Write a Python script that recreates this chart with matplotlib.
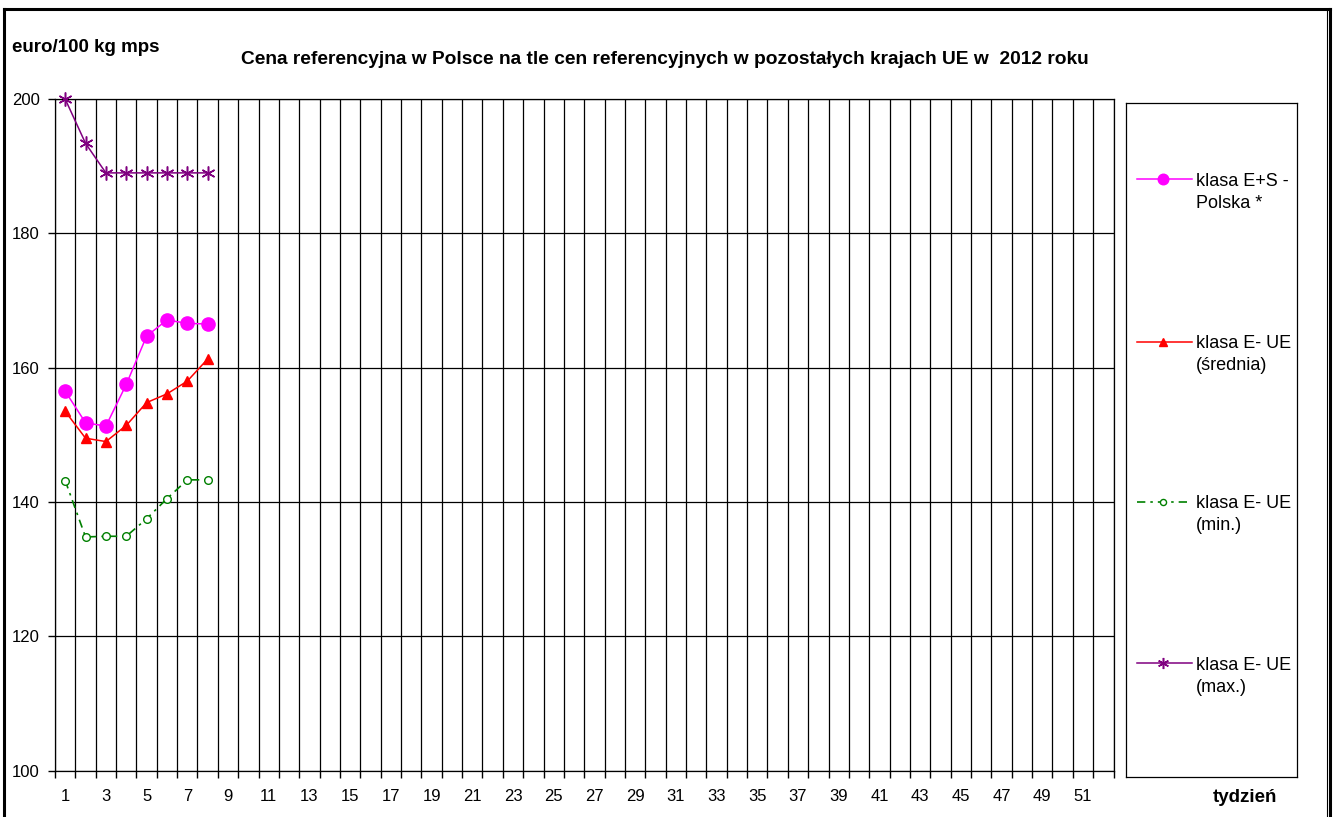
import matplotlib
matplotlib.use("Agg")
import matplotlib.pyplot as plt
from matplotlib.lines import Line2D
import numpy as np

plt.rcParams['font.family'] = ['Liberation Sans', 'DejaVu Sans']

# ---- data ----
weeks = [1, 2, 3, 4, 5, 6, 7, 8]
polska = [156.5, 151.8, 151.3, 157.5, 164.7, 167.1, 166.6, 166.5]
ue_srednia = [153.5, 149.5, 149.0, 151.4, 154.8, 156.1, 158.0, 161.3]
ue_min = [143.2, 134.8, 134.9, 134.9, 137.5, 140.5, 143.3, 143.3]
ue_max = [200.0, 193.4, 189.0, 189.0, 189.0, 189.0, 189.0, 189.0]
series_labels = ["klasa E+S -\nPolska *", "klasa E- UE\n(średnia)",
                 "klasa E- UE\n(min.)", "klasa E- UE\n(max.)"]
n_weeks = 52
y_ticks = [100, 120, 140, 160, 180, 200]
title = "Cena referencyjna w Polsce na tle cen referencyjnych w pozostałych krajach UE w  2012 roku"
y_unit = "euro/100 kg mps"
x_label = "tydzień"

W, H = 1335, 817
fig = plt.figure(figsize=(W / 100, H / 100), dpi=100)

def fx(px):
    return px / W

def fy(py):
    return 1 - py / H

left, right, top, bottom = 55, 1113.5, 99, 770.7
ax = fig.add_axes([fx(left), fy(bottom), fx(right) - fx(left), fy(top) - fy(bottom)])

styles = [
    dict(color="#FF00FF", lw=1.1, marker="o", ms=9.5, mfc="#FF00FF", mec="#FF00FF", ls="-"),
    dict(color="#FF0000", lw=1.1, marker="^", ms=7, mfc="#FF0000", mec="#FF0000", ls="-"),
    dict(color="#008000", lw=1.2, marker="o", ms=5.5, mfc="white", mec="#008000", mew=1.0,
         ls=(0, (5, 3, 1.5, 3))),
    dict(color="#800080", lw=1.1, marker=(6, 2, 0), ms=10, mec="#800080", mew=1.1, ls="-"),
]
series = [polska, ue_srednia, ue_min, ue_max]
for vals, st in zip(series, styles):
    ax.plot(weeks, vals, clip_on=False, zorder=5, **st)

ax.set_xlim(0.5, n_weeks + 0.5)
ax.set_ylim(100, 200)

# vertical grid at category boundaries, labels at odd category centres
ax.set_xticks(np.arange(0.5, n_weeks + 1, 1))
ax.set_xticklabels([])
ax.set_xticks(np.arange(1, n_weeks + 1, 2), minor=True)
ax.set_xticklabels([str(i) for i in range(1, n_weeks + 1, 2)], minor=True)
ax.tick_params(axis='x', which='major', direction='out', length=5, width=1, color='black')
ax.tick_params(axis='x', which='minor', length=0, pad=13, labelsize=12)
ax.set_yticks(y_ticks)
ax.tick_params(axis='y', direction='out', length=5, width=1, labelsize=12, pad=6)
ax.grid(True, which='major', color='black', lw=0.9)
for sp in ax.spines.values():
    sp.set_color('black')
    sp.set_linewidth(0.9)
ax.set_axisbelow(True)

# texts
fig.text(fx(12), fy(47), y_unit, fontsize=13.5, fontweight='bold', va='center', ha='left')
fig.text(fx(665), fy(60), title, fontsize=13.8, fontweight='bold', va='center', ha='center')
fig.text(fx(1245), fy(797), x_label, fontsize=13.5, fontweight='bold', va='center', ha='center')

# legend box (manual, pixel-aligned)
lx0, lx1, ly0, ly1 = 1126, 1297, 103, 777
lax = fig.add_axes([fx(lx0), fy(ly1), fx(lx1) - fx(lx0), fy(ly0) - fy(ly1)])
lax.set_xlim(0, lx1 - lx0)
lax.set_ylim(ly1 - ly0, 0)
lax.set_xticks([])
lax.set_yticks([])
for sp in lax.spines.values():
    sp.set_color('black')
    sp.set_linewidth(0.9)
entry_y = [179, 342, 502, 663]
for ey, st, lab in zip(entry_y, styles, series_labels):
    yy = ey - ly0
    st2 = dict(st)
    st2['ms'] = st['ms'] * 0.8
    lax.plot([11, 66], [yy, yy], **{k: v for k, v in st2.items() if k != 'marker'}, marker=None)
    lax.plot([37], [yy], ls='none', **{k: v for k, v in st2.items() if k not in ('ls', 'lw')})
    for i, line in enumerate(lab.split("\n")):
        lax.text(70, yy + 6.5 + 22 * i, line, fontsize=13, va='baseline', ha='left')

# outer frame
for xs, ys in [((4, 4), (9, 830)), ((4, 1330), (9, 9)), ((1330, 1330), (9, 830))]:
    fig.add_artist(Line2D([fx(x) for x in xs], [fy(y) for y in ys], color='black', lw=2.2,
                          transform=fig.transFigure))
fig.add_artist(Line2D([fx(1326.5)] * 2, [fy(11), fy(830)], color='black', lw=0.8,
                      transform=fig.transFigure))

fig.savefig("out.png", dpi=100)
